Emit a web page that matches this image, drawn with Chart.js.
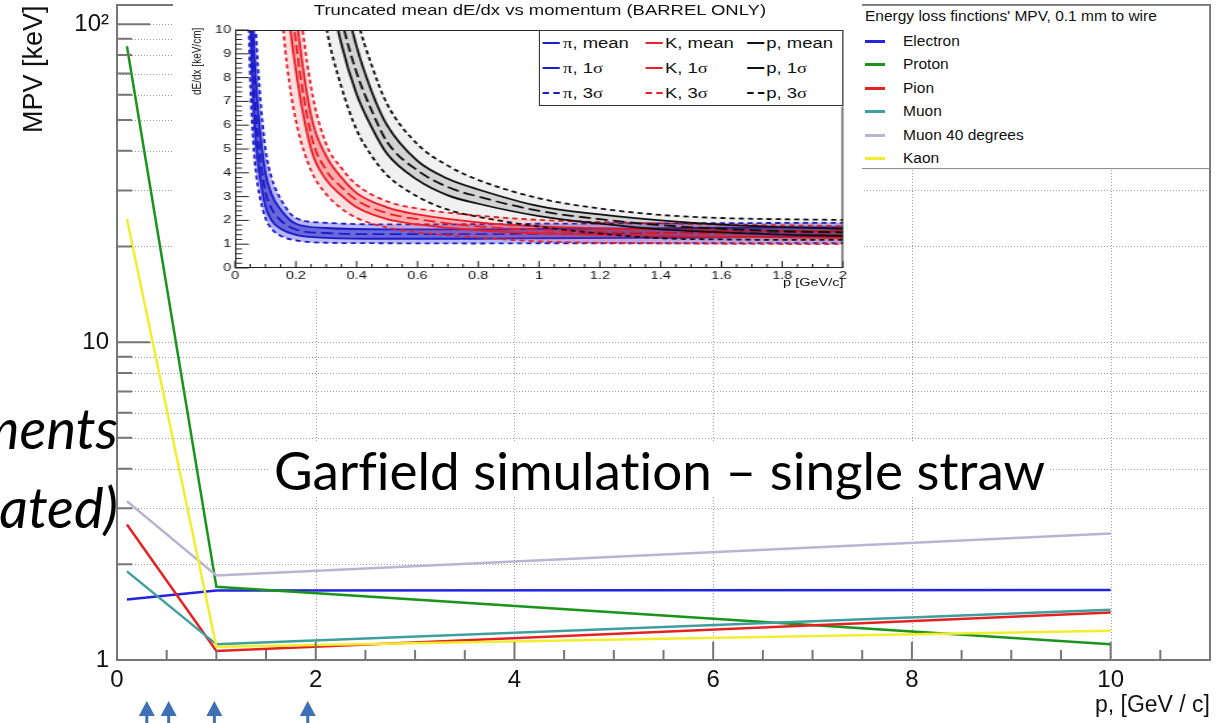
<!DOCTYPE html>
<html>
<head>
<meta charset="utf-8">
<script src="https://cdn.jsdelivr.net/npm/chart.js@4.4.1/dist/chart.umd.min.js"></script>
<style>
  html, body { margin:0; padding:0; background:#fff; }
  body { width:1230px; height:723px; overflow:hidden; position:relative; font-family:"Liberation Sans", Arial, sans-serif; color:#111; }
  .abs { position:absolute; white-space:nowrap; }
  #mainCanvas { position:absolute; left:0; top:0; }
  #inset { position:absolute; left:173px; top:0; width:522px; height:290px; background:#fff; transform:scaleX(1.32); transform-origin:0 0; overflow:hidden; }
  #insetCanvas { position:absolute; left:0; top:0; }
  #legend { position:absolute; left:862px; top:5px; width:347px; height:162px; background:#fff; border:1px solid #8c8c8c; border-left:none; }
  .greek { font-family:"Liberation Serif", "DejaVu Serif", serif; }
  .overlay { font-family:Lato, "Open Sans", sans-serif; color:#000; font-variant-ligatures:none; }
</style>
</head>
<body>
<canvas id="mainCanvas" width="1230" height="723"></canvas>

<div class="abs" style="left:0;top:0;font-size:27px;line-height:27px;transform:translate(20px,133px) rotate(-90deg);transform-origin:0 0;">MPV [keV]</div>
<div class="abs" style="right:20px;top:693px;font-size:23px;line-height:23px;">p, [GeV / c]</div>

<div id="legend"></div>
<div id="legendItems"></div>

<div id="inset">
  <canvas id="insetCanvas" width="522" height="290"></canvas>
  <div class="abs" style="left:78px;width:400px;text-align:center;top:3px;font-size:14px;line-height:14px;">Truncated mean dE/dx vs momentum (BARREL ONLY)</div>
  <div class="abs" style="left:0;top:0;font-size:10px;line-height:10px;transform:translate(13px,95px) rotate(-90deg);transform-origin:0 0;">dE/dx [keV/cm]</div>
  <div class="abs" style="right:14px;top:277px;font-size:11px;line-height:11px;">p [GeV/c]</div>
  <div class="abs" style="left:277px;top:30px;width:229px;height:74px;border:1px solid #333;background:#fff;"></div>
  <div id="insetLegend"></div>
</div>

<div class="abs overlay" id="garfield" style="left:269px;top:443px;font-size:53px;line-height:53px;background:#fff;padding:0 5px;">Garfield simulation – single straw</div>
<div class="abs overlay" style="right:1112px;top:400px;font-size:56px;line-height:56px;font-style:italic;">ments</div>
<div class="abs overlay" style="right:1112px;top:479px;font-size:56px;line-height:56px;font-style:italic;">ated)</div>

<script>
// ---------------- main chart data ----------------
const momenta = [0.1, 1, 10];
const electronMPV = [1.55, 1.655, 1.66];
const protonMPV   = [85.3, 1.70, 1.12];
const pionMPV     = [2.67, 1.067, 1.41];
const muonMPV     = [1.90, 1.12, 1.44];
const muon40MPV   = [3.16, 1.845, 2.50];
const kaonMPV     = [24.4, 1.10, 1.237];

const seriesNames  = ["Electron", "Proton", "Pion", "Muon", "Muon 40 degrees", "Kaon"];
const seriesValues = [electronMPV, protonMPV, pionMPV, muonMPV, muon40MPV, kaonMPV];
const seriesColors = ["#2323e0", "#1a941a", "#e52222", "#3f9e9e", "#b7b5d2", "#f2ee2e"];

const legendTitle = "Energy loss finctions' MPV, 0.1 mm to wire";

const xLabelTicks = [0, 2, 4, 6, 8, 10];
const yLabelTicks = [1, 10, 100];
const yLabelText  = ["1", "10", "10²"];
const yMinorTicks = [2, 3, 4, 5, 6, 7, 8, 9, 20, 30, 40, 50, 60, 70, 80, 90];
const arrowMomenta = [0.3, 0.52, 0.98, 1.92];

// ---------------- inset data (dE/dx vs p) ----------------
const piP    = [0.04, 0.05, 0.06, 0.07, 0.08, 0.10, 0.12, 0.15, 0.20, 0.30, 0.50, 0.80, 1.00, 1.50, 2.00];
const piMean = [19, 12.0, 8.3, 6.2, 4.9, 3.2, 2.5, 2.0, 1.62, 1.47, 1.42, 1.42, 1.44, 1.48, 1.52];
const piUp1  = [22, 14.0, 9.9, 7.6, 6.0, 4.0, 3.1, 2.45, 1.86, 1.68, 1.62, 1.62, 1.64, 1.68, 1.72];
const piLo1  = [16, 10.6, 7.0, 5.1, 4.0, 2.6, 2.0, 1.65, 1.39, 1.27, 1.23, 1.23, 1.25, 1.28, 1.32];
const piUp3  = [26, 16.5, 12.0, 9.6, 7.6, 5.0, 3.8, 2.9, 2.1, 1.9, 1.83, 1.84, 1.86, 1.88, 1.90];
const piLo3  = [13, 8.0, 5.3, 3.9, 3.1, 2.1, 1.65, 1.35, 1.16, 1.06, 1.04, 1.03, 1.04, 1.04, 1.04];

const kP    = [0.15, 0.17, 0.20, 0.25, 0.30, 0.35, 0.40, 0.50, 0.60, 0.80, 1.00, 1.50, 2.00];
const kMean = [17, 13.3, 9.5, 5.6, 4.1, 3.4, 2.85, 2.3, 2.05, 1.75, 1.6, 1.45, 1.40];
const kUp1  = [19, 15, 10.8, 6.4, 4.7, 3.8, 3.15, 2.55, 2.25, 1.92, 1.75, 1.6, 1.55];
const kLo1  = [15, 11.5, 8.3, 5.0, 3.7, 3.05, 2.55, 2.05, 1.83, 1.58, 1.46, 1.32, 1.26];
const kUp3  = [22, 17, 12.5, 7.6, 5.2, 4.2, 3.5, 2.8, 2.5, 2.2, 2.02, 1.85, 1.76];
const kLo3  = [11.2, 8.6, 6.2, 4.1, 3.1, 2.5, 2.1, 1.7, 1.5, 1.28, 1.12, 1.03, 1.0];

const prP    = [0.28, 0.30, 0.35, 0.40, 0.45, 0.50, 0.60, 0.70, 0.80, 1.00, 1.20, 1.40, 1.60, 1.80, 2.00];
const prMean = [16.5, 14, 10.5, 8.2, 6.6, 5.3, 4.1, 3.4, 3.0, 2.4, 2.05, 1.8, 1.65, 1.55, 1.5];
const prUp1  = [19, 16, 12, 9.3, 7.4, 6.0, 4.5, 3.75, 3.3, 2.6, 2.25, 2.0, 1.82, 1.72, 1.65];
const prLo1  = [14.5, 12.5, 9.4, 7.3, 5.9, 4.8, 3.7, 3.05, 2.7, 2.18, 1.86, 1.62, 1.5, 1.4, 1.35];
const prUp3  = [22, 19, 14, 10.6, 8.5, 6.9, 5.2, 4.3, 3.7, 2.93, 2.5, 2.23, 2.1, 2.05, 2.02];
const prLo3  = [11.8, 10.1, 7.6, 5.8, 4.7, 3.9, 3.0, 2.45, 2.15, 1.74, 1.45, 1.25, 1.2, 1.18, 1.18];

const insetXTicks = [0, 0.2, 0.4, 0.6, 0.8, 1, 1.2, 1.4, 1.6, 1.8, 2];
const insetYTicks = [0, 1, 2, 3, 4, 5, 6, 7, 8, 9, 10];

const insetLegendRows = [
  [["π", ", mean"], ["K", ", mean"], ["p", ", mean"]],
  [["π", ", 1σ"], ["K", ", 1σ"], ["p", ", 1σ"]],
  [["π", ", 3σ"], ["K", ", 3σ"], ["p", ", 3σ"]]
];

const FONT = "'Liberation Sans', Arial, sans-serif";
const PI_COL = "#1c1cc8", K_COL = "#e8202a", P_COL = "#111111";

// ---------------- main legend (HTML) ----------------
(function buildLegend() {
  const host = document.getElementById('legendItems');
  const t = document.createElement('div');
  t.className = 'abs';
  t.style.cssText = 'left:865px;top:8px;font-size:15.5px;line-height:16px;';
  t.textContent = legendTitle;
  host.appendChild(t);
  const rowY = [41.5, 64.5, 88, 111.5, 135, 158];
  seriesNames.forEach((n, i) => {
    const ln = document.createElement('div');
    ln.className = 'abs';
    ln.style.cssText = `left:865px;top:${rowY[i] - 1.5}px;width:20px;height:3px;background:${seriesColors[i]};`;
    host.appendChild(ln);
    const tx = document.createElement('div');
    tx.className = 'abs';
    tx.style.cssText = `left:903px;top:${rowY[i] - 8.5}px;font-size:15.5px;line-height:16px;`;
    tx.textContent = n;
    host.appendChild(tx);
  });
})();

// ---------------- inset legend (HTML) ----------------
(function buildInsetLegend() {
  const host = document.getElementById('insetLegend');
  const colSample = [279.5, 358.3, 434.8];
  const colText = [295.5, 372.7, 449.4];
  const rowY = [43, 68, 93];
  const cols = [PI_COL, K_COL, P_COL];
  insetLegendRows.forEach((row, r) => {
    row.forEach((item, c) => {
      const ln = document.createElement('div');
      ln.className = 'abs';
      const style = r === 2 ? 'dashed' : 'solid';
      ln.style.cssText = `left:${colSample[c]}px;top:${rowY[r] - 1}px;width:13px;height:0;border-top:2px ${style} ${cols[c]};`;
      host.appendChild(ln);
      const tx = document.createElement('div');
      tx.className = 'abs';
      tx.style.cssText = `left:${colText[c]}px;top:${rowY[r] - 8}px;font-size:14px;line-height:16px;`;
      const g = document.createElement('span');
      if (item[0] === 'π') g.className = 'greek';
      g.textContent = item[0];
      tx.appendChild(g);
      const rest = item[1];
      const sigIdx = rest.indexOf('σ');
      if (sigIdx >= 0) {
        tx.appendChild(document.createTextNode(rest.slice(0, sigIdx)));
        const s = document.createElement('span'); s.className = 'greek'; s.textContent = 'σ';
        tx.appendChild(s);
      } else {
        tx.appendChild(document.createTextNode(rest));
      }
      host.appendChild(tx);
    });
  });
})();

// ---------------- main chart ----------------
function vline(ctx, x, y0, y1) { ctx.moveTo(x, y0); ctx.lineTo(x, y1); }
function hline(ctx, y, x0, x1) { ctx.moveTo(x0, y); ctx.lineTo(x1, y); }

const mainDecor = {
  id: 'mainDecor',
  beforeDatasetsDraw(chart) {
    const { ctx, chartArea: a, scales: { x, y } } = chart;
    ctx.save();
    ctx.strokeStyle = '#9c9c9c';
    ctx.lineWidth = 1;
    ctx.setLineDash([1, 2]);
    ctx.beginPath();
    yLabelTicks.concat(yMinorTicks).forEach(v => {
      if (v <= 1) return;
      const py = Math.round(y.getPixelForValue(v)) + 0.5;
      hline(ctx, py, a.left, a.right);
    });
    xLabelTicks.forEach(v => {
      if (v === 0) return;
      const px = Math.round(x.getPixelForValue(v)) + 0.5;
      vline(ctx, px, a.top, a.bottom);
    });
    ctx.stroke();
    ctx.restore();
  },
  afterDatasetsDraw(chart) {
    const { ctx, chartArea: a, scales: { x, y } } = chart;
    ctx.save();
    ctx.strokeStyle = '#767676';
    ctx.lineWidth = 2;
    ctx.strokeRect(a.left, a.top, a.right - a.left, a.bottom - a.top);
    ctx.beginPath();
    yLabelTicks.forEach(v => { const py = y.getPixelForValue(v); hline(ctx, py, a.left, a.left + 33); });
    yMinorTicks.forEach(v => { const py = y.getPixelForValue(v); hline(ctx, py, a.left, a.left + 15); });
    xLabelTicks.forEach(v => { const px = x.getPixelForValue(v); vline(ctx, px, a.bottom, a.bottom - 18); });
    for (let v = 0.5; v < 11; v += 0.5) {
      if (Math.abs(v / 2 - Math.round(v / 2)) < 1e-9) continue;
      const px = x.getPixelForValue(v); vline(ctx, px, a.bottom, a.bottom - 10);
    }
    ctx.stroke();
    // arrows below the axis
    ctx.fillStyle = '#3f6fb6';
    arrowMomenta.forEach(v => {
      const px = x.getPixelForValue(v);
      ctx.beginPath();
      ctx.moveTo(px, 701); ctx.lineTo(px + 8, 716); ctx.lineTo(px - 8, 716); ctx.closePath();
      ctx.fill();
      ctx.fillRect(px - 1.5, 715, 3, 8);
    });
    ctx.restore();
  }
};

new Chart(document.getElementById('mainCanvas'), {
  type: 'scatter',
  data: {
    datasets: seriesNames.map((n, i) => ({
      label: n,
      data: momenta.map((p, j) => ({ x: p, y: seriesValues[i][j] })),
      showLine: true,
      borderColor: seriesColors[i],
      backgroundColor: seriesColors[i],
      borderWidth: 2.5,
      pointRadius: 0,
      fill: false,
      order: seriesNames.length - 1 - i
    }))
  },
  options: {
    responsive: false, animation: false, events: [],
    layout: { padding: { top: 5, right: 20, left: 0, bottom: 0 } },
    plugins: { legend: { display: false }, tooltip: { enabled: false } },
    scales: {
      x: {
        type: 'linear', min: 0, max: 11,
        grid: { display: false, drawTicks: false }, border: { display: false },
        afterBuildTicks: s => { s.ticks = xLabelTicks.map(v => ({ value: v })); },
        afterFit: s => { s.height = 63; s.paddingLeft = 0; s.paddingRight = 0; },
        ticks: { font: { family: FONT, size: 24 }, color: '#111', padding: 6, maxRotation: 0, autoSkip: false, callback: v => String(v) }
      },
      y: {
        type: 'logarithmic', min: 1, max: 115,
        grid: { display: false, drawTicks: false }, border: { display: false },
        afterBuildTicks: s => { s.ticks = yLabelTicks.map(v => ({ value: v })); },
        afterFit: s => { s.width = 117; s.paddingTop = 0; s.paddingBottom = 0; },
        ticks: { font: { family: FONT, size: 24 }, color: '#111', padding: 8, autoSkip: false,
                 callback: v => { const k = yLabelTicks.indexOf(v); return k >= 0 ? yLabelText[k] : ''; } }
      }
    }
  },
  plugins: [mainDecor]
});

// ---------------- inset chart ----------------
const insetDatasets = [];
function addSpecies(p, up3, lo3, up1, lo1, mean, color, band3, band1) {
  const b = insetDatasets.length;
  const mk = arr => p.map((v, i) => ({ x: v, y: arr[i] }));
  const base = { showLine: true, pointRadius: 0, borderColor: color, borderWidth: 1.8, cubicInterpolationMode: 'monotone' };
  insetDatasets.push(Object.assign({}, base, { data: mk(up3), borderDash: [4, 3], fill: b + 1, backgroundColor: band3 }));
  insetDatasets.push(Object.assign({}, base, { data: mk(lo3), borderDash: [4, 3], fill: false }));
  insetDatasets.push(Object.assign({}, base, { data: mk(up1), fill: b + 3, backgroundColor: band1 }));
  insetDatasets.push(Object.assign({}, base, { data: mk(lo1), fill: false }));
  insetDatasets.push(Object.assign({}, base, { data: mk(mean), borderDash: [9, 4], fill: false }));
}
addSpecies(piP, piUp3, piLo3, piUp1, piLo1, piMean, PI_COL, 'rgba(30,30,220,0.32)', 'rgba(10,10,190,0.45)');
addSpecies(kP, kUp3, kLo3, kUp1, kLo1, kMean, K_COL, 'rgba(255,60,60,0.16)', 'rgba(240,0,0,0.22)');
addSpecies(prP, prUp3, prLo3, prUp1, prLo1, prMean, P_COL, 'rgba(0,0,0,0.06)', 'rgba(0,0,0,0.12)');
insetDatasets.forEach((d, i) => { d.order = insetDatasets.length - i; });

const insetDecor = {
  id: 'insetDecor',
  afterDatasetsDraw(chart) {
    const { ctx, chartArea: a, scales: { x, y } } = chart;
    ctx.save();
    ctx.strokeStyle = '#222';
    ctx.lineWidth = 1;
    ctx.strokeRect(a.left + 0.5, a.top + 0.5, a.right - a.left - 1, a.bottom - a.top - 1);
    ctx.beginPath();
    insetYTicks.forEach(v => { const py = y.getPixelForValue(v); hline(ctx, py, a.left, a.left + 10.5); });
    for (let v = 0.2; v < 10; v += 0.2) {
      if (Math.abs(v - Math.round(v)) < 1e-6) continue;
      const py = y.getPixelForValue(v); hline(ctx, py, a.left, a.left + 5.3);
    }
    insetXTicks.forEach(v => { const px = x.getPixelForValue(v); vline(ctx, px, a.bottom, a.bottom - 7); });
    for (let v = 0.05; v < 2; v += 0.05) {
      if (Math.abs(v / 0.2 - Math.round(v / 0.2)) < 1e-6) continue;
      const px = x.getPixelForValue(v); vline(ctx, px, a.bottom, a.bottom - 4);
    }
    ctx.stroke();
    ctx.restore();
  }
};

new Chart(document.getElementById('insetCanvas'), {
  type: 'scatter',
  data: { datasets: insetDatasets },
  options: {
    responsive: false, animation: false, events: [],
    layout: { padding: { top: 30, right: 14.4, left: 0, bottom: 0 } },
    plugins: { legend: { display: false }, tooltip: { enabled: false } },
    scales: {
      x: {
        type: 'linear', min: 0, max: 2,
        grid: { display: false, drawTicks: false }, border: { display: false },
        afterBuildTicks: s => { s.ticks = insetXTicks.map(v => ({ value: v })); },
        afterFit: s => { s.height = 22; s.paddingLeft = 0; s.paddingRight = 0; },
        ticks: { font: { family: FONT, size: 11 }, color: '#111', padding: 1, maxRotation: 0, autoSkip: false,
                 callback: v => String(Math.round(v * 10) / 10) }
      },
      y: {
        type: 'linear', min: 0, max: 10,
        grid: { display: false, drawTicks: false }, border: { display: false },
        afterBuildTicks: s => { s.ticks = insetYTicks.map(v => ({ value: v })); },
        afterFit: s => { s.width = 47; s.paddingTop = 0; s.paddingBottom = 0; },
        ticks: { font: { family: FONT, size: 11 }, color: '#111', padding: 3, autoSkip: false, callback: v => String(v) }
      }
    }
  },
  plugins: [insetDecor]
});
</script>
</body>
</html>
